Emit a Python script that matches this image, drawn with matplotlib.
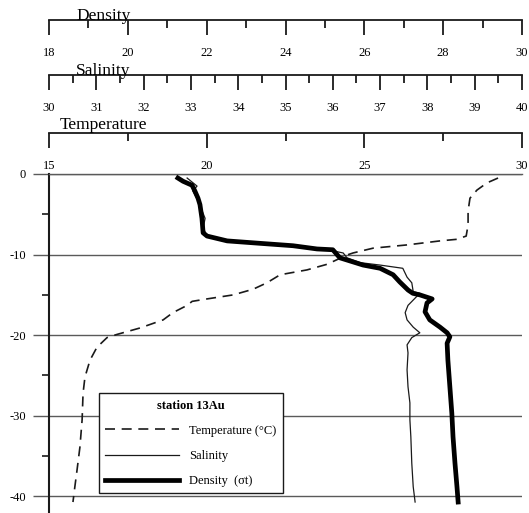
#!/usr/bin/env python3
"""Vertical profiles of temperature, salinity and density at station 13Au."""

import matplotlib

matplotlib.use("Agg")
import matplotlib.pyplot as plt  # noqa: E402
from matplotlib.lines import Line2D  # noqa: E402

plt.rcParams["font.family"] = ["Liberation Serif", "DejaVu Serif"]
plt.rcParams["axes.unicode_minus"] = False

# --- data ------------------------------------------------------------------
temp_depth = [-0.5, -1.1, -2.0, -3.0, -4.6, -6.3, -7.7, -8.1, -8.3, -8.8, -9.2,
              -9.8, -10.05, -11.2, -11.9, -12.5, -13.5, -14.3, -15.0, -15.5,
              -15.8, -16.3, -17.2, -18.1, -19.1, -19.9, -20.3, -21.5, -23.1,
              -25.2, -27.2, -30.5, -33.9, -36.7, -38.8, -40.7]
temperature = [29.24, 28.89, 28.57, 28.35, 28.29, 28.29, 28.23, 27.94, 27.40,
               26.35, 25.28, 24.64, 24.45, 23.82, 23.18, 22.33, 21.91, 21.47,
               20.84, 20.01, 19.54, 19.38, 18.93, 18.62, 17.89, 17.16, 16.84,
               16.52, 16.30, 16.14, 16.08, 16.05, 15.98, 15.89, 15.82, 15.76]

sal_depth = [-0.5, -1.5, -2.1, -3.3, -5.5, -6.7, -7.7, -8.3, -8.6, -8.9, -9.2,
             -9.8, -10.4, -11.0, -11.3, -11.7, -12.8, -13.5, -14.6, -14.8,
             -15.4, -16.3, -17.2, -18.1, -19.0, -19.7, -20.3, -21.2, -22.2,
             -24.3, -26.4, -28.4, -30.5, -32.6, -35.9, -38.8, -40.7]
salinity = [32.92, 33.13, 33.04, 33.15, 33.30, 33.26, 33.34, 33.76, 34.46,
            35.16, 35.73, 36.22, 36.30, 36.58, 37.00, 37.48, 37.57, 37.67,
            37.70, 37.84, 37.74, 37.59, 37.53, 37.57, 37.70, 37.84, 37.67,
            37.57, 37.59, 37.57, 37.59, 37.63, 37.63, 37.65, 37.67, 37.70,
            37.74]

dens_depth = [-0.5, -0.9, -1.4, -2.1, -3.0, -3.8, -5.5, -7.3, -7.7, -8.3, -8.6,
              -8.9, -9.3, -9.4, -10.4, -11.3, -11.7, -12.5, -13.4, -14.4,
              -14.8, -15.0, -15.5, -16.0, -17.1, -18.1, -19.0, -19.7, -20.2,
              -21.0, -23.1, -26.4, -29.7, -32.6, -35.9, -38.8, -40.7]
density = [21.27, 21.40, 21.63, 21.70, 21.78, 21.83, 21.88, 21.91, 22.01,
           22.52, 23.35, 24.19, 24.80, 25.20, 25.38, 25.97, 26.40, 26.73,
           26.90, 27.11, 27.23, 27.41, 27.72, 27.59, 27.54, 27.66, 27.92,
           28.10, 28.17, 28.10, 28.12, 28.17, 28.22, 28.25, 28.30, 28.35,
           28.38]

dens_major = [18, 20, 22, 24, 26, 28, 30]
dens_minor = [19, 21, 23, 25, 27, 29]
sal_major = [30, 31, 32, 33, 34, 35, 36, 37, 38, 39, 40]
sal_minor = [30.5, 31.5, 32.5, 33.5, 34.5, 35.5, 36.5, 37.5, 38.5, 39.5]
temp_major = [15, 20, 25, 30]
temp_minor = [17.5, 22.5, 27.5]
depth_major = [0, -10, -20, -30, -40]
depth_minor = [-5, -15, -25, -35]

W_PX, H_PX = 529, 513
LEFT = 49 / W_PX
WIDTH = 473 / W_PX
GRID = "#5a5a5a"
INK = "#1a1a1a"


def scale_axis(fig, y_px, lo, hi, major, minor, title, title_dy):
    a = fig.add_axes([LEFT, 1 - y_px / H_PX, WIDTH, 0])
    a.patch.set_visible(False)
    a.set_xlim(lo, hi)
    a.set_yticks([])
    for side in ("left", "right", "top"):
        a.spines[side].set_visible(False)
    a.spines["bottom"].set_color(INK)
    a.spines["bottom"].set_linewidth(1.3)
    a.set_xticks(major)
    a.set_xticklabels([str(v) for v in major])
    a.set_xticks(minor, minor=True)
    a.tick_params(axis="x", which="major", direction="out", length=11,
                  width=1.3, color=INK, pad=8.5, labelsize=9)
    a.tick_params(axis="x", which="minor", direction="out", length=5.8,
                  width=1.3, color=INK)
    a.annotate(title, xy=(0.115, 0), xycoords="axes fraction",
               xytext=(0, title_dy), textcoords="offset points",
               ha="center", va="baseline", fontsize=12.5)
    return a


def main() -> int:
    fig = plt.figure(figsize=(W_PX / 100, H_PX / 100), dpi=100)

    scale_axis(fig, 20, 18, 30, dens_major, dens_minor, "Density", 0)
    scale_axis(fig, 75, 30, 40, sal_major, sal_minor, "Salinity", 0)
    scale_axis(fig, 133, 15, 30, temp_major, temp_minor, "Temperature", 3)

    ax = fig.add_axes([LEFT, 0, WIDTH, (H_PX - 174) / H_PX])
    ax.set_xlim(15, 30)
    ax.set_ylim(-42.06, 0)
    ax.set_xticks([])
    for side in ("right", "bottom"):
        ax.spines[side].set_visible(False)
    ax.spines["top"].set_color(GRID)
    ax.spines["top"].set_linewidth(1.0)
    ax.spines["left"].set_color(INK)
    ax.spines["left"].set_linewidth(1.5)
    ax.set_yticks(depth_major)
    ax.set_yticklabels([str(v) for v in depth_major])
    ax.set_yticks(depth_minor, minor=True)
    ax.tick_params(axis="y", which="major", length=11.5, width=1.0,
                   color=GRID, pad=5, labelsize=9)
    ax.tick_params(axis="y", which="minor", length=5, width=1.2, color=INK)
    ax.grid(axis="y", which="major", color=GRID, linewidth=1.0)

    ax.plot(temperature, temp_depth, color=INK, linewidth=1.2,
            dashes=(6, 4), zorder=3)

    ax_s = ax.twiny()
    ax_s.set_xlim(30, 40)
    ax_s.set_ylim(-42.06, 0)
    ax_s.axis("off")
    ax_s.plot(salinity, sal_depth, color=INK, linewidth=0.9)

    ax_d = ax.twiny()
    ax_d.set_xlim(18, 30)
    ax_d.set_ylim(-42.06, 0)
    ax_d.axis("off")
    ax_d.plot(density, dens_depth, color="black", linewidth=3.4,
              solid_joinstyle="round")

    handles = [
        Line2D([], [], color=INK, linewidth=1.2, dashes=(6, 4)),
        Line2D([], [], color=INK, linewidth=0.9),
        Line2D([], [], color="black", linewidth=3.4),
    ]
    labels = ["Temperature (\u00b0C)", "Salinity", "Density  (\u03c3t)"]
    leg = ax_d.legend(handles, labels, title="station 13Au",
                      loc="lower left", bbox_to_anchor=(0.106, 0.058),
                      fontsize=9, title_fontproperties={"weight": "bold",
                                                        "size": 9},
                      handlelength=5.9, handletextpad=0.8,
                      labelspacing=1.05, borderpad=0.5, fancybox=False,
                      framealpha=1, edgecolor=INK, borderaxespad=0)
    leg.get_frame().set_linewidth(1.0)

    fig.savefig("out.png", dpi=100)
    plt.close(fig)
    return 0


if __name__ == "__main__":
    raise SystemExit(main())
